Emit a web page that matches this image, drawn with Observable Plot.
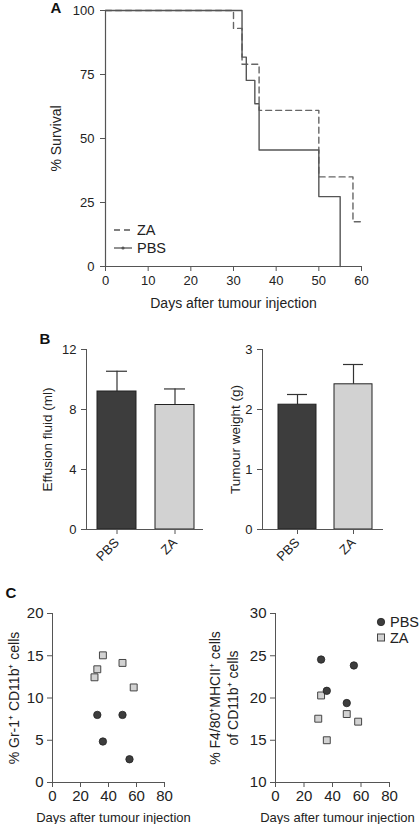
<!DOCTYPE html>
<html><head><meta charset="utf-8">
<script src="https://cdn.jsdelivr.net/npm/d3@7"></script>
<script src="https://cdn.jsdelivr.net/npm/@observablehq/plot@0.6"></script>
<style>
body{margin:0;background:#fff;}
#root{position:relative;width:419px;height:824px;font-family:"Liberation Sans",Arial,sans-serif;color:#222;overflow:hidden;}
#root svg{position:absolute;overflow:visible;}
</style></head><body><div id="root"></div>
<script>
// ---------- Panel A: survival ----------
const survivalTicksX = [0, 10, 20, 30, 40, 50, 60];
const survivalTicksY = [0, 25, 50, 75, 100];
const zaDays = [0, 30, 32, 36, 50, 58, 60];
const zaSurvival = [100, 93, 79, 61, 35, 17.5, 17.5];
const pbsDays = [0, 32, 33, 35, 36, 50, 55];
const pbsSurvival = [100, 81.8, 72.7, 63.6, 45.5, 27.3, 0];

// ---------- Panel B: bars ----------
const groups = ["PBS", "ZA"];
const effusionMean = [9.2, 8.3];
const effusionErr = [1.35, 1.07];
const effusionTicks = [0, 4, 8, 12];
const weightMean = [2.08, 2.42];
const weightErr = [0.17, 0.33];
const weightTicks = [0, 1, 2, 3];

// ---------- Panel C: scatter ----------
const scatterTicksX = [0, 20, 40, 60, 80];
const pbsSampleDays = [32, 36, 50, 55];
const pbsGr1 = [8.0, 4.85, 8.0, 2.75];
const pbsF480 = [24.55, 20.85, 19.4, 23.85];
const zaSampleDays = [30, 32, 36, 50, 58];
const zaGr1 = [12.45, 13.4, 15.05, 14.15, 11.25];
const zaF480 = [17.55, 20.3, 15.0, 18.1, 17.2];
const gr1Ticks = [0, 5, 10, 15, 20];
const f480Ticks = [10, 15, 20, 25, 30];

const FONT = '"Liberation Sans", Arial, sans-serif';
const TXT = "#222";
const AX = "#555";
const DARK = "#3d3d3d";
const LIGHT = "#d2d2d2";
const root = document.getElementById("root");
const fmt = d3.format("d");

function place(svg, left, top) {
  svg.style.left = left + "px";
  svg.style.top = top + "px";
  root.appendChild(svg);
}
const baseStyle = (fs) => ({fontFamily: FONT, fontSize: fs + "px", color: TXT, background: "transparent", overflow: "visible"});

// Panel A
const za = zaDays.map((d, i) => ({day: d, s: zaSurvival[i]}));
const pbs = pbsDays.map((d, i) => ({day: d, s: pbsSurvival[i]}));
const A = Plot.plot({
  width: 419, height: 320,
  marginLeft: 105, marginRight: 58, marginTop: 10, marginBottom: 54,
  style: baseStyle(13),
  x: {domain: [0, 60]},
  y: {domain: [0, 100]},
  marks: [
    Plot.axisX({ticks: survivalTicksX, tickSize: 5, tickPadding: 4, stroke: AX, label: null, tickFormat: fmt}),
    Plot.axisY({ticks: survivalTicksY, tickSize: 5, tickPadding: 6, stroke: AX, label: null, tickFormat: fmt}),
    Plot.ruleX([0], {stroke: AX, strokeWidth: 1.2}),
    Plot.ruleY([0], {stroke: AX, strokeWidth: 1.2}),
    Plot.line(za, {x: "day", y: "s", curve: "step-after", stroke: "#666", strokeWidth: 1.4, strokeDasharray: "6,4"}),
    Plot.line(pbs, {x: "day", y: "s", curve: "step-after", stroke: "#555", strokeWidth: 1.4}),
    Plot.text(["% Survival"], {frameAnchor: "left", textAnchor: "middle", lineAnchor: "middle", dx: -49, rotate: -90, fontSize: 14, fill: TXT}),
    Plot.text(["Days after tumour injection"], {frameAnchor: "bottom", textAnchor: "middle", lineAnchor: "middle", dy: 37, fontSize: 14, fill: TXT})
  ]
});
place(A, 0, 0);

// Panel B
function barChart(means, errs, ticks, label, opts) {
  const data = groups.map((g, i) => ({group: g, mean: means[i], err: errs[i]}));
  return Plot.plot({
    width: opts.width, height: 250,
    marginLeft: opts.ml, marginRight: opts.mr, marginTop: 19, marginBottom: 51,
    style: baseStyle(13),
    x: {domain: groups, paddingInner: 0.33, paddingOuter: opts.po, align: opts.align},
    y: {domain: [ticks[0], ticks[ticks.length - 1]]},
    color: {domain: groups, range: [DARK, LIGHT]},
    marks: [
      Plot.axisX({tickSize: 5, tickPadding: 6, tickRotate: -45, stroke: AX, label: null}),
      Plot.axisY({ticks, tickSize: 5, tickPadding: 5, stroke: AX, label: null, tickFormat: fmt}),
      Plot.ruleX(data, {x: "group", y1: "mean", y2: d => d.mean + d.err, stroke: "#333", strokeWidth: 1.2}),
      Plot.tickY(data, {x: "group", y: d => d.mean + d.err, insetLeft: opts.cap, insetRight: opts.cap, stroke: "#333", strokeWidth: 1.2}),
      Plot.barY(data, {x: "group", y: "mean", fill: "group", stroke: "#222", strokeWidth: 1}),
      Plot.frame({anchor: "left", stroke: AX}),
      Plot.frame({anchor: "bottom", stroke: AX}),
      Plot.text([label], {frameAnchor: "left", textAnchor: "middle", lineAnchor: "middle", dx: opts.ldx, rotate: -90, fontSize: 13.5, fill: TXT})
    ]
  });
}
place(barChart(effusionMean, effusionErr, effusionTicks, "Effusion fluid (ml)",
  {width: 210, ml: 86, mr: 8, po: 0.15, align: 0.55, cap: 9, ldx: -39}), 0, 330);
place(barChart(weightMean, weightErr, weightTicks, "Tumour weight (g)",
  {width: 209, ml: 52, mr: 37, po: 0.22, align: 0.6, cap: 9, ldx: -27}), 210, 330);

// Panel C
function scatter(pbsVals, zaVals, ticks, label, opts) {
  const p = pbsSampleDays.map((d, i) => ({day: d, v: pbsVals[i]}));
  const z = zaSampleDays.map((d, i) => ({day: d, v: zaVals[i]}));
  return Plot.plot({
    width: opts.width, height: 234,
    marginLeft: opts.ml, marginRight: opts.mr, marginTop: 23, marginBottom: 42,
    style: baseStyle(15),
    x: {domain: [0, 80]},
    y: {domain: [ticks[0], ticks[ticks.length - 1]]},
    marks: [
      Plot.axisX({ticks: scatterTicksX, tickSize: 5, tickPadding: 3, stroke: AX, label: null, tickFormat: fmt}),
      Plot.axisY({ticks, tickSize: 5, tickPadding: 4, stroke: AX, label: null, tickFormat: fmt}),
      Plot.ruleX([0], {stroke: AX}),
      Plot.ruleY([ticks[0]], {stroke: AX}),
      Plot.dot(z, {x: "day", y: "v", symbol: "square", r: 3.9, fill: LIGHT, stroke: "#444", strokeWidth: 1}),
      Plot.dot(p, {x: "day", y: "v", symbol: "circle", r: 3.7, fill: DARK, stroke: "#222", strokeWidth: 0.8}),
      Plot.text([label], {frameAnchor: "left", textAnchor: "middle", lineAnchor: "middle", dx: opts.ldx, rotate: -90, fontSize: 14, lineHeight: 1.25, fill: TXT}),
      Plot.text(["Days after tumour injection"], {frameAnchor: "bottom", textAnchor: "middle", lineAnchor: "middle", dy: 35, dx: 5, fontSize: 13, fill: TXT})
    ]
  });
}
place(scatter(pbsGr1, zaGr1, gr1Ticks, "% Gr-1\u207A CD11b\u207A cells",
  {width: 210, ml: 52, mr: 46, ldx: -39}), 0, 590);
place(scatter(pbsF480, zaF480, f480Ticks, "% F4/80\u207AMHCII\u207A cells\nof CD11b\u207A cells",
  {width: 209, ml: 65, mr: 30, ldx: -52}), 210, 590);

// Overlay: panel letters and legends
const ns = "http://www.w3.org/2000/svg";
const ov = document.createElementNS(ns, "svg");
ov.setAttribute("width", 419); ov.setAttribute("height", 824);
ov.style.left = "0px"; ov.style.top = "0px";
ov.setAttribute("font-family", FONT);
function el(tag, attrs, text) {
  const e = document.createElementNS(ns, tag);
  for (const k in attrs) e.setAttribute(k, attrs[k]);
  if (text != null) e.textContent = text;
  ov.appendChild(e);
  return e;
}
const letters = [["A", 56, 13], ["B", 45, 344], ["C", 11, 598]];
letters.forEach(([t, x, y]) => el("text", {x, y, "text-anchor": "middle", "font-weight": "bold", "font-size": 15, fill: "#111"}, t));
// Legend A
el("line", {x1: 114, x2: 132, y1: 230, y2: 230, stroke: "#555", "stroke-width": 1.3, "stroke-dasharray": "6,4"});
el("text", {x: 137, y: 230, "dominant-baseline": "central", "font-size": 14.5, fill: TXT}, "ZA");
el("line", {x1: 114, x2: 132, y1: 248, y2: 248, stroke: "#555", "stroke-width": 1.3});
el("circle", {cx: 123, cy: 248, r: 1.6, fill: "#555"});
el("text", {x: 137, y: 248, "dominant-baseline": "central", "font-size": 14.5, fill: TXT}, "PBS");
// Legend C
el("circle", {cx: 381, cy: 622, r: 3.7, fill: DARK, stroke: "#222", "stroke-width": 0.8});
el("text", {x: 390, y: 622, "dominant-baseline": "central", "font-size": 14.5, fill: TXT}, "PBS");
el("rect", {x: 377.5, y: 634, width: 7, height: 7, fill: LIGHT, stroke: "#444", "stroke-width": 1});
el("text", {x: 390, y: 638, "dominant-baseline": "central", "font-size": 14.5, fill: TXT}, "ZA");
root.appendChild(ov);
</script>
</body></html>
